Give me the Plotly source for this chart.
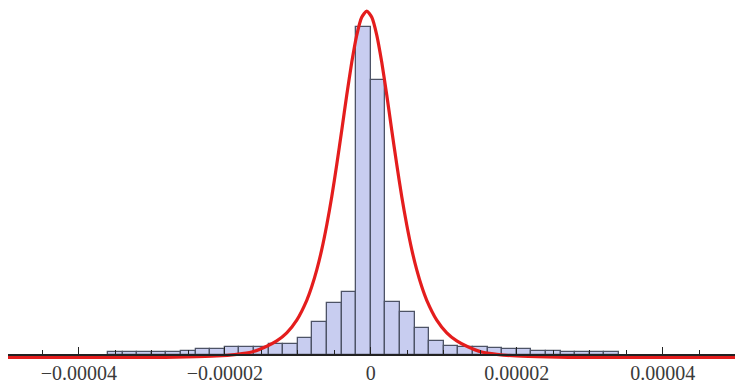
import plotly.graph_objects as go

# Histogram bins (centers, in units of 1e-6) and bar heights (relative counts)
bin_centers_micro = [-35, -33, -31, -29, -27, -25, -23, -21, -19, -17, -15, -13,
                     -11, -9, -7, -5, -3, -1, 1, 3, 5, 7, 9, 11, 13, 15, 17, 19,
                     21, 23, 25, 27, 29, 31, 33]
bin_counts = [3, 3, 3, 3, 3, 4, 6, 6, 8, 8, 8, 11, 11, 17, 33, 52, 63, 328,
              275, 53, 43, 27, 14, 9, 8, 8, 7, 6, 6, 4, 4, 3, 3, 3, 3]
bin_width_micro = 2

# Fitted density curve (x in units of 1e-6)
curve_x_micro = [-50, -30.69, -25.21, -21.10, -18.36, -16.30, -14.25, -12.88,
                 -11.51, -10.14, -8.77, -8.08, -7.40, -6.71, -6.03, -5.34,
                 -4.66, -3.97, -3.29, -2.60, -1.92, -1.24, -0.55,
                 0.14, 0.82, 1.50, 2.19, 2.87, 3.56, 4.24, 4.93, 5.61, 6.30,
                 6.98, 7.67, 9.04, 10.41, 11.78, 13.15, 15.20, 17.26, 20.00,
                 24.11, 29.59, 50]
curve_y = [0, 0, 0.5, 1.5, 3.2, 5.5, 11.3, 16.6,
           24.7, 37.4, 57.2, 70.9, 87.6, 108.1, 132.5, 160.9,
           192.9, 227.5, 262.6, 295.4, 322.4, 340.2, 346.5,
           340.2, 322.4, 295.4, 262.6, 227.5, 192.9, 160.9, 132.5, 108.1, 87.6,
           70.9, 57.2, 37.4, 24.7, 16.6, 11.3, 5.5, 3.2, 1.5,
           0.5, 0, 0]

tick_vals = [-4e-5, -2e-5, 0, 2e-5, 4e-5]
tick_text = ["\u22120.00004", "\u22120.00002", "0", "0.00002", "0.00004"]

fig = go.Figure()
fig.add_trace(go.Bar(
    x=[v * 1e-6 for v in bin_centers_micro],
    y=bin_counts,
    width=bin_width_micro * 1e-6,
    marker=dict(color="#c8cdf0", line=dict(color="#4d5366", width=1.3)),
    yaxis="y",
))
fig.add_trace(go.Scatter(
    x=[v * 1e-6 for v in curve_x_micro],
    y=curve_y,
    mode="lines",
    line=dict(color="#e41d1d", width=3.2, shape="spline", smoothing=0.6),
    yaxis="y2",
))

fig.update_layout(
    width=735, height=384,
    margin=dict(l=8, r=0, t=0, b=25),
    paper_bgcolor="white", plot_bgcolor="white",
    showlegend=False,
    bargap=0,
    xaxis=dict(
        range=[-4.97e-5, 4.99e-5],
        anchor="free", position=4 / 359,
        showline=True, linecolor="#222222", linewidth=1.6,
        showgrid=False, zeroline=False,
        ticks="inside", ticklen=7, tickwidth=1.3, tickcolor="#222222",
        tickvals=tick_vals, ticktext=tick_text,
        tickfont=dict(family="Liberation Serif", size=20, color="#3a3a3a"),
        minor=dict(ticks="inside", ticklen=4, tickwidth=1.1, tickcolor="#222222",
                   dtick=5e-6, tick0=0, showgrid=False),
        layer="above traces",
    ),
    yaxis=dict(range=[-4, 355], visible=False, fixedrange=True),
    yaxis2=dict(range=[-1.5, 357.5], visible=False, overlaying="y"),
)

fig.write_html("out.html")
